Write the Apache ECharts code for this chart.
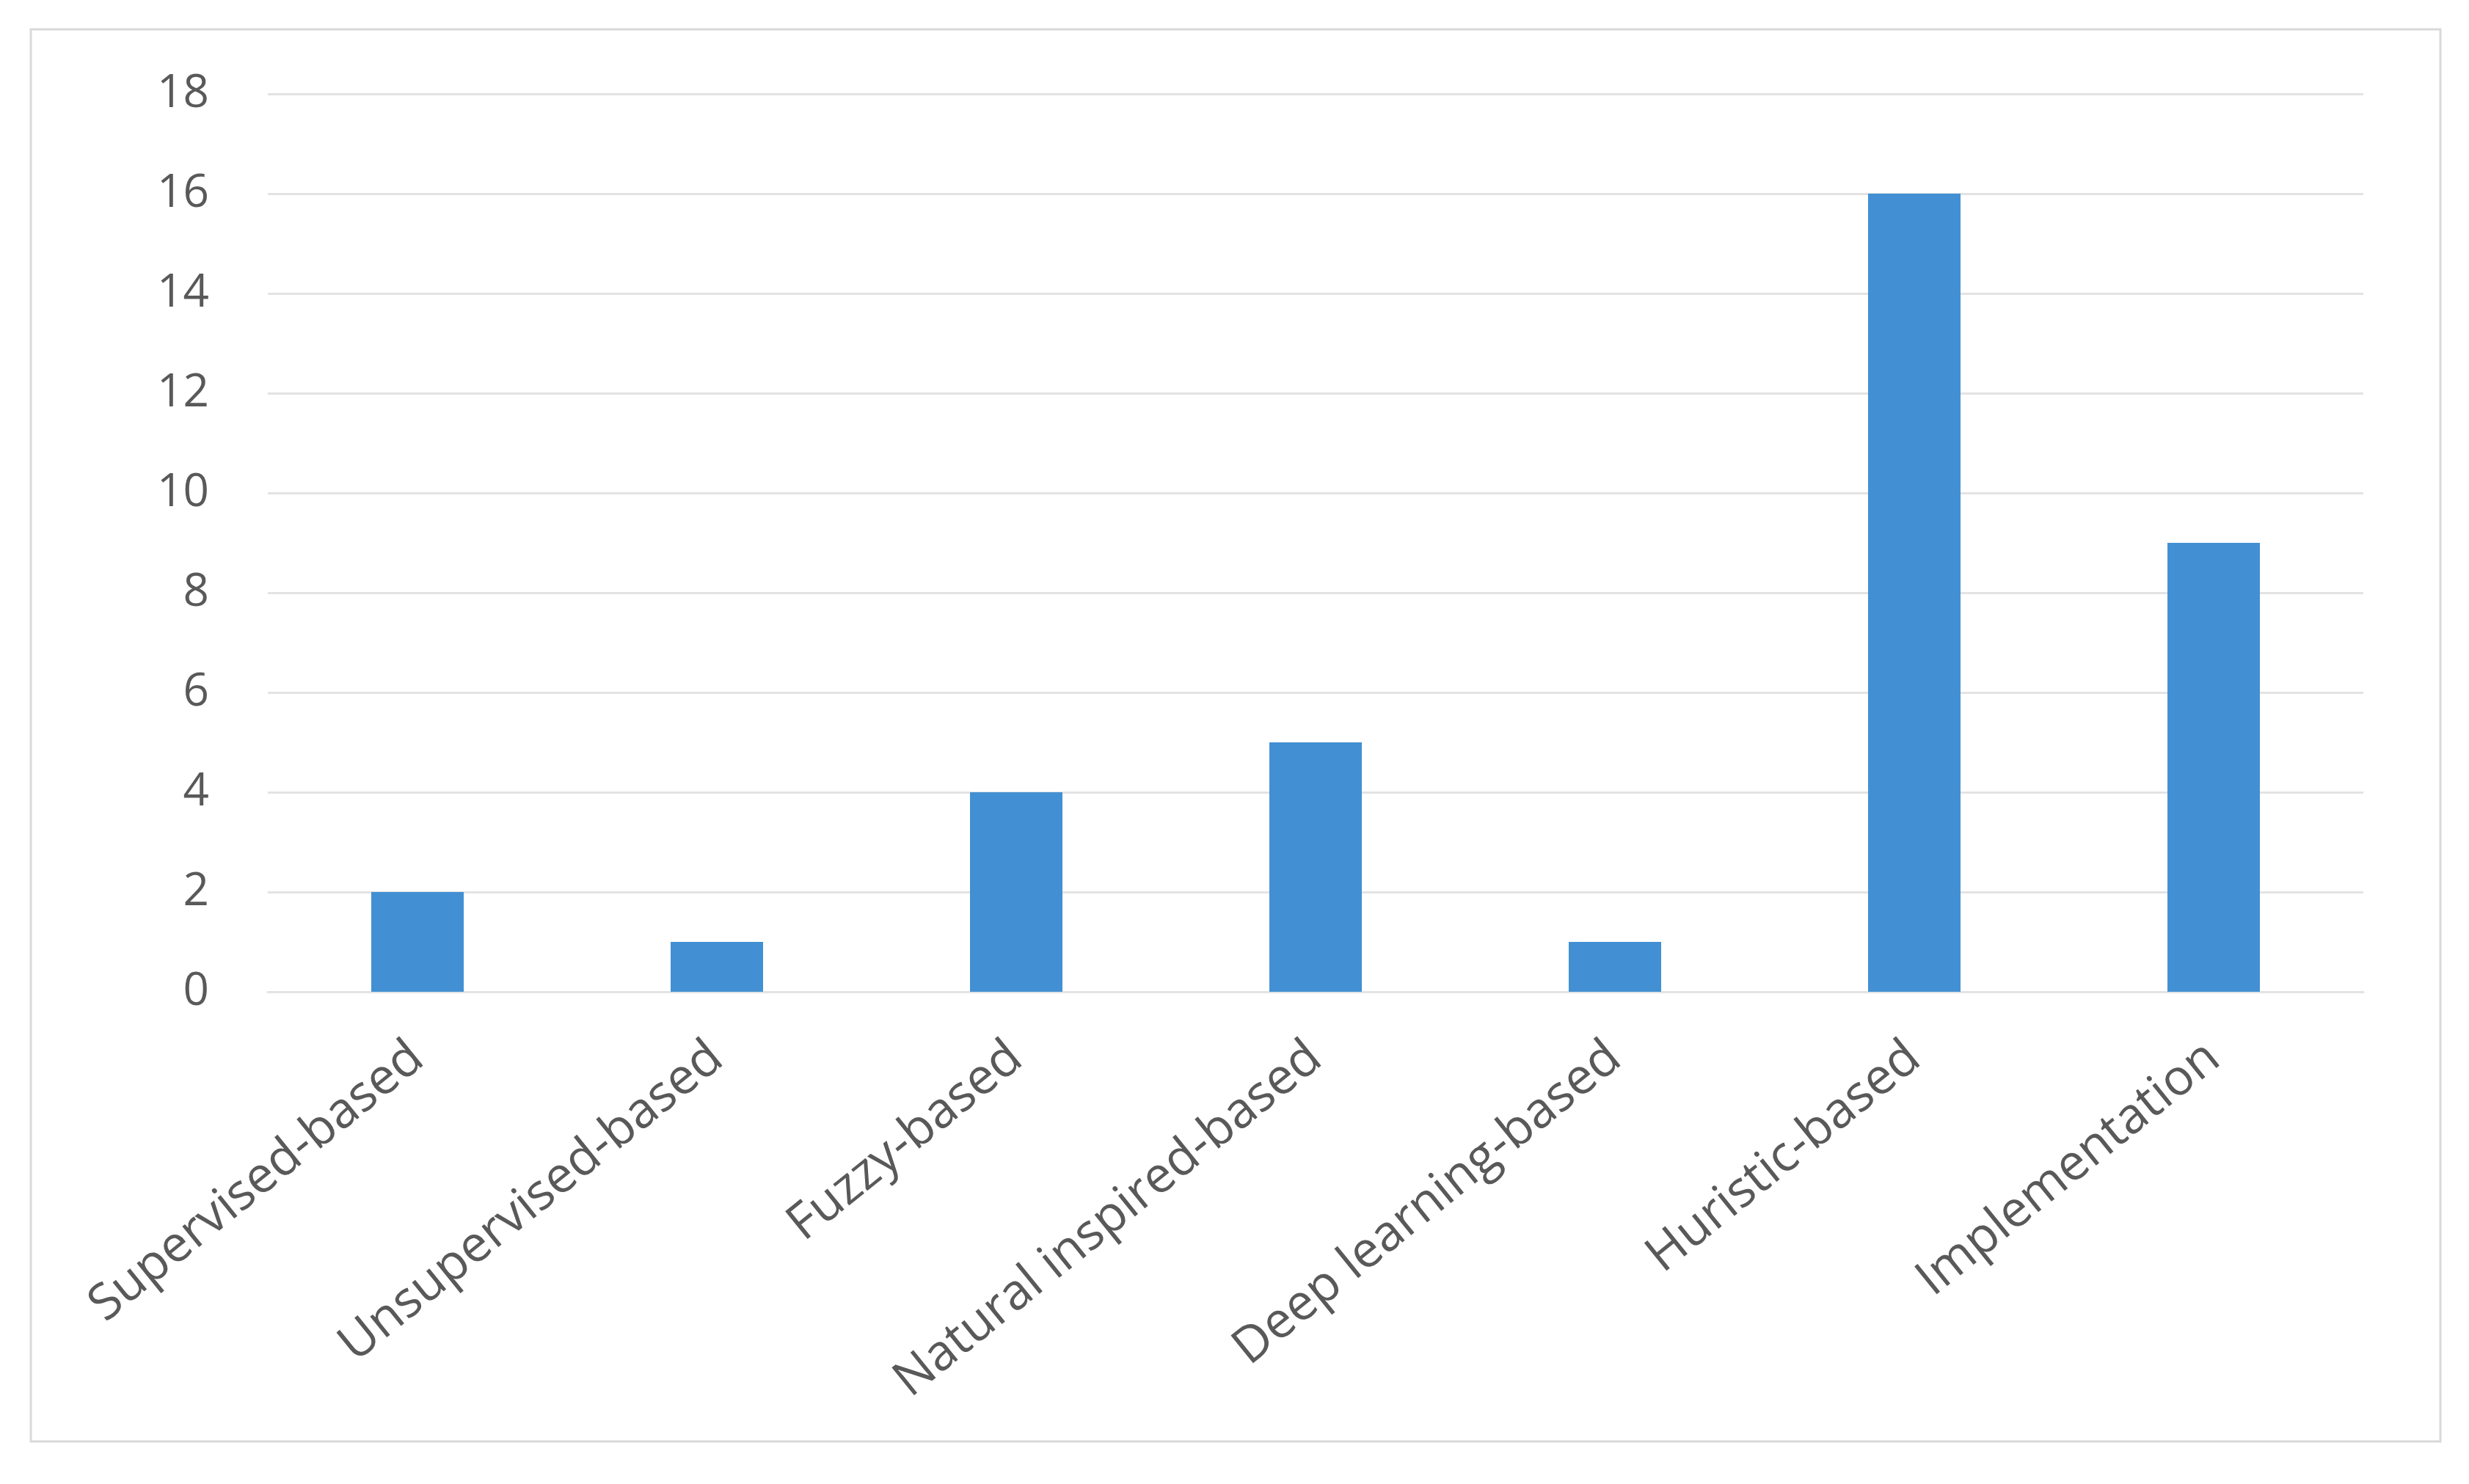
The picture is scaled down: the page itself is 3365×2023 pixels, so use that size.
<!DOCTYPE html>
<html>
<head>
<meta charset="utf-8">
<script src="https://cdn.jsdelivr.net/npm/echarts@6/dist/echarts.min.js"></script>
<style>
  html, body { margin: 0; padding: 0; background: #fff; }
  #root { width: 3365px; height: 2023px; }
</style>
</head>
<body>
<div id="root"></div>
<script>
var categories = [
	'Supervised-based',
	'Unsupervised-based',
	'Fuzzy-based',
	'Natural inspired-based',
	'Deep learning-based',
	'Huristic-based',
	'Implementation'
];
var counts = [2, 1, 4, 5, 1, 16, 9];
var yTicks = { min: 0, max: 18, interval: 2 };

var chart = echarts.init(document.getElementById('root'));

var font = '"Open Sans", "Noto Sans", sans-serif';
var gridColor = '#e3e3e3';

var option = {
	backgroundColor: '#ffffff',
	animation: false,
	graphic: [
		{
			type: 'rect',
			shape: { x: 42, y: 40, width: 3284, height: 1925 },
			style: { fill: 'none', stroke: '#d9d9d9', lineWidth: 3 },
			silent: true
		}
	],
	grid: {
		left: 365,
		right: 3365 - 3221,
		top: 128,
		bottom: 2023 - 1352,
		containLabel: false
	},
	xAxis: {
		type: 'category',
		data: categories,
		axisTick: { show: false },
		axisLine: { show: true, lineStyle: { color: gridColor, width: 3 } },
		axisLabel: {
			rotate: 39,
			margin: 82,
			fontSize: 68,
			fontFamily: font,
			color: '#595959',
			interval: 0
		}
	},
	yAxis: {
		type: 'value',
		min: yTicks.min,
		max: yTicks.max,
		interval: yTicks.interval,
		axisLine: { show: false },
		axisTick: { show: false },
		splitLine: { show: true, lineStyle: { color: gridColor, width: 3 } },
		axisLabel: {
			margin: 80,
			fontSize: 62,
			fontFamily: font,
			color: '#595959'
		}
	},
	series: [
		{
			type: 'bar',
			data: counts,
			barWidth: 126,
			itemStyle: { color: '#4290d3' }
		}
	]
};

chart.setOption(option);
</script>
</body>
</html>
